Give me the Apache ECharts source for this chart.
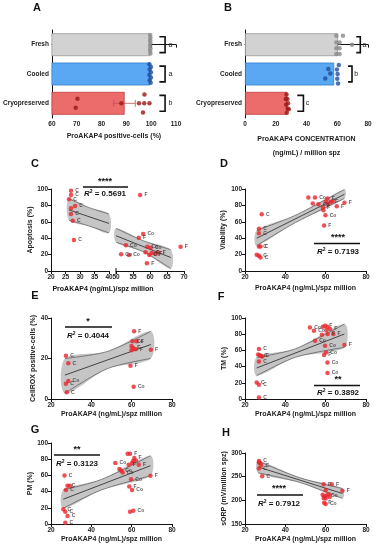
<!DOCTYPE html>
<html><head><meta charset="utf-8">
<script src="https://cdn.jsdelivr.net/npm/echarts@6/dist/echarts.min.js"></script>
<style>html,body{margin:0;padding:0;background:#fff}#c{width:376px;height:550px}</style>
</head><body><div id="c"></div>
<script>
// ---------- DATA ----------
const groups = ['Fresh', 'Cooled', 'Cryopreserved'];
// Panel A : ProAKAP4 positive cells (%)  (dots: [value, vertical jitter within the row])
const posCellsMean = [99.6, 99.6, 89.3];
const posCellsErr = [[99.4, 99.8], [99.3, 99.9], [84.9, 93.6]];
const posFreshDots = [[99.6,-0.33],[99.7,-0.24],[99.6,-0.15],[99.7,-0.06],[99.6,0.03],[99.7,0.12],[99.6,0.21],[99.7,0.3]];
const posCooledDots = [[99.3,-0.33],[99.9,-0.24],[99.4,-0.15],[99.9,-0.06],[99.3,0.03],[99.9,0.12],[99.4,0.21],[99.8,0.3]];
const posCryoDots = [[70.3,-0.16],[69.6,0.15],[88,0],[97.3,-0.3],[95.1,0],[97.2,0],[99.3,0],[96.7,0.31]];
const posLetters = ['a', 'a', 'b'];
const aTicks = [60, 70, 80, 90, 100, 110];
// Panel B : ProAKAP4 concentration
const concMean = [60.5, 58, 27.5];
const concFreshDots = [[59.4,-0.3],[63.7,-0.3],[59.4,-0.07],[61.5,-0.07],[59.4,0.12],[61.5,0.12],[69.6,0],[59.4,0.32],[61.5,0.32]];
const concCooledDots = [[61,-0.31],[59.8,-0.15],[54.2,-0.17],[55.5,-0.02],[52.2,0.15],[60.2,0.0],[60,0.16],[60.5,0.32]];
const concCryoDots = [[27,-0.3],[26.5,-0.15],[27.6,-0.15],[28,0],[26.8,0.05],[27.8,0.18],[28.5,0.2],[27.2,0.32]];
const concLetters = ['a', 'b', 'c'];
const bTicks = [0, 20, 40, 60, 80];
// Panel C : Apoptosis
const apoLeft = [[26.9,97.9,'C'],[26.9,92.7,'C'],[26.2,87.4,'C'],[28.3,79.3,'C'],[26.9,76.4,''],[26.9,69.5,'C'],[27.5,61.4,'C'],[27.9,37.8,'C']];
const apoRight = [[57.1,92.7,'F'],[58,45,'Co'],[56.7,40.6,'F'],[52.9,31.3,'Co'],[69,29.7,'F'],[59.2,29.5,'Co'],[60.2,28.5,'Co'],[58.7,23,''],[60.5,22,'F'],[61.5,21,'F'],[62.5,22.5,'F'],[59.8,19.5,'Co'],[51.5,20.3,'Co'],[53.8,19.5,'Co'],[59.1,9.4,'F']];
const apoBandXL = [26.2, 33, 40], apoFitL = [74.5, 66, 58], apoUpL = [88, 77.5, 69.5], apoLoL = [62, 55, 46.5];
const apoBandXR = [50, 58, 66.1], apoFitR = [43, 30, 16.5], apoUpR = [52, 37, 26], apoLoR = [35, 23.5, 3];
const cTicksL = [20, 25, 30, 35, 40], cTicksR = [50, 55, 60, 65, 70], pctTicks = [0, 20, 40, 60, 80, 100];
// Panel D : Viability
const viaPts = [[28.3,69.1,'C'],[26.9,51.4,'C'],[26.9,46.1,'C'],[26.9,30,'C'],[27.7,30,'C'],[25.8,19.8,''],[26.9,18.5,'C'],[27.7,16.5,'C'],
  [51.4,89.7,''],[54.7,89.7,'Co'],[53.6,82.3,''],[56.4,81.5,'Co'],[58.6,77.4,'F'],[58.9,74.1,''],[60.9,88.5,'F'],[60.2,84.4,''],[61.3,81.5,''],[62.5,84,'F'],[63.5,85,''],[65.5,79,'F'],[59.9,67.9,'Co'],[59.2,55.6,'F'],[69.3,83.1,'F']];
const viaBandX = [25.8, 45, 69.3], viaFit = [40, 63.5, 93.5], viaUp = [49.5, 68, 99.5], viaLo = [31, 59, 88.5];
const xTicks = [20, 40, 60, 80];
// Panel E : CellROX
const roxPts = [[27.4,21.3,'C'],[28.6,17.6,'C'],[28.6,8.9,'Co'],[27.4,7.5,'C'],[27.8,3.3,'C'],
  [61.2,33.4,'F'],[60.4,28.5,'Co'],[62.4,28.5,'F'],[59.9,26.2,''],[60.7,25.2,'F'],[62,24.6,'F'],[59.9,24.1,''],[69.5,24.3,'F'],[59.4,16.4,'F'],[61,6,'Co']];
const roxBandX = [26.9, 48, 69.5], roxFit = [11.8, 19.3, 26.9], roxUp = [20, 23.5, 33.4], roxLo = [2.8, 15, 20];
const eTicks = [0, 20, 40];
// Panel F : TM
const tmPts = [[26.9,61.7,'C'],[26.5,55,''],[27.3,54,'C'],[28,53,'C'],[28.6,52.5,''],[26.9,46.4,'C'],[25.8,20.5,'C'],[26.9,17.6,'C'],[26.9,2,'C'],
  [52.2,88.4,'Co'],[54.2,84.3,'Co'],[58.6,89.3,''],[59.7,90.5,'F'],[60.9,89.3,''],[62.2,86.4,'F'],[60.4,85.2,''],[61,80.2,'F'],[58.1,79.4,''],[63.8,80.2,'F'],[54.7,72,'Co'],[59.7,65.8,'Co'],[69.3,66.7,'F'],[60.2,57.5,'Co'],[59.2,54.3,'F'],[60.9,45.2,'Co'],[60.9,32.1,'Co']];
const tmBandX = [25.8, 45, 69.3], tmFit = [38.3, 57, 80.2], tmUp = [51.4, 62, 92.6], tmLo = [28.8, 51.5, 63.7];
// Panel G : PM
const pmPts = [[26.7,59.9,'C'],[28.2,47.1,'C'],[29.4,47.1,''],[27.4,42.1,'C'],[26.1,18.2,'C'],[27.1,15.2,'C'],[28.2,9.9,'C'],[27.1,1.6,'C'],
  [51.9,75.2,'Co'],[53.9,67.8,''],[54.7,66,'Co'],[55.5,63.6,'Co'],[58,86.7,''],[59.2,86.7,'F'],[60.8,78,''],[58.5,73.1,'F'],[60.2,75.2,''],[61.3,81.4,'F'],[62.1,78.4,''],[63.5,73.1,'F'],[69.3,59.5,'F'],[59.7,55.4,'Co'],[58.8,46.2,'F'],[60.2,42.1,'Co'],[59.2,15.2,''],[60.8,16.5,'Co']];
const pmBandX = [26.1, 45, 69.3], pmFit = [30.6, 48.5, 71.9], pmUp = [42.1, 55, 84.3], pmLo = [19.4, 42, 59.5];
// Panel H : sORP
const orpPts = [[26.9,283,'C'],[27.5,279,''],[28,274,'C'],[26.9,267,'C'],[26.9,280,''],[28.5,251,'C'],
  [59,234,'F'],[63,234,'F'],[68.3,220,'F'],[60,221.5,''],[58.5,212,''],[59.5,208,''],[60.5,210,'Co'],[61.5,213,''],[62,207,''],[59,205,''],[60,204,''],[59.2,195,'F'],[60,192,'Co']];
const orpBandX = [26.5, 47, 68.3], orpFit = [270.5, 243, 214.5], orpUp = [283, 248, 225], orpLo = [258, 238, 204];
const hTicks = [150, 200, 250, 300];

// ---------- STYLE HELPERS ----------
const FONT = 'Liberation Sans, Arial, sans-serif';
const tickFont = {fontSize: 6.5, fontWeight: 'bold', color: '#222', fontFamily: FONT};
const nameFont = {fontSize: 7, fontWeight: 'bold', color: '#222', fontFamily: FONT};
function valAxis(gi, ticks, extra) {
  return Object.assign({
    type: 'value', gridIndex: gi, min: ticks[0], max: ticks[ticks.length - 1], interval: ticks[1] - ticks[0],
    axisLine: {show: true, lineStyle: {color: '#111', width: 1}},
    axisTick: {show: true, length: 3, lineStyle: {color: '#111', width: 1}},
    axisLabel: Object.assign({margin: 3}, tickFont),
    splitLine: {show: false}, nameTextStyle: nameFont
  }, extra || {});
}
function hiddenAxis(gi) {
  return {type: 'value', gridIndex: gi, min: -0.5, max: 2.5, inverse: true, show: false, splitLine: {show: false}};
}
function catAxis(gi) {
  return {type: 'category', gridIndex: gi, data: groups, inverse: true,
    axisLine: {lineStyle: {color: '#111', width: 1}}, axisTick: {length: 3, alignWithLabel: true, lineStyle: {color: '#111'}},
    axisLabel: Object.assign({margin: 3}, tickFont)};
}
const RED = '#e8242b';
function scatter(xi, yi, pts) {
  return {type: 'scatter', xAxisIndex: xi, yAxisIndex: yi, data: pts, symbolSize: 4.5, z: 5,
    itemStyle: {color: RED},
    label: {show: true, position: 'right', distance: 2, fontSize: 5, fontWeight: 'bold', color: '#333', fontFamily: FONT,
      formatter: p => p.value[2]}};
}
function band(xi, yi, bx, up, lo) {
  return {type: 'custom', xAxisIndex: xi, yAxisIndex: yi, z: 2, silent: true,
    data: bx.map((x, i) => [x, up[i], lo[i]]),
    renderItem: (params, api) => {
      if (params.dataIndex !== 0) return null;
      const top = bx.map((x, i) => api.coord([x, up[i]]));
      const bot = bx.map((x, i) => api.coord([x, lo[i]])).reverse();
      return {type: 'group', children: [
        {type: 'polygon', shape: {points: top.concat(bot), smooth: 0.3}, style: {fill: 'rgba(150,150,150,0.55)', stroke: null}},
        {type: 'polyline', shape: {points: top, smooth: 0.3}, style: {stroke: '#555', lineWidth: 0.7, fill: null}},
        {type: 'polyline', shape: {points: bot, smooth: 0.3}, style: {stroke: '#555', lineWidth: 0.7, fill: null}}
      ]};
    }};
}
function fitLine(xi, yi, bx, fit) {
  return {type: 'line', xAxisIndex: xi, yAxisIndex: yi, data: [[bx[0], fit[0]], [bx[bx.length - 1], fit[fit.length - 1]]],
    symbol: 'none', z: 3, silent: true, lineStyle: {color: '#444', width: 1}};
}
// dots placed on a hidden value axis whose units equal category rows (row index + jitter)
function dots(xi, yi, arr, row, color) {
  return {type: 'scatter', xAxisIndex: xi, yAxisIndex: yi, data: arr.map(d => [d[0], row + d[1]]), symbolSize: 4.5, z: 5, itemStyle: {color: color}};
}
function brackets(xi, yi, spec) {
  return {type: 'custom', xAxisIndex: xi, yAxisIndex: yi, z: 6, silent: true, data: spec,
    renderItem: (params, api) => {
      const x1 = api.value(0), x2 = api.value(1), c = api.value(2), lx = api.value(3);
      const p1 = api.coord([x1, c - 0.27]), p2 = api.coord([x2, c - 0.27]), p3 = api.coord([x2, c + 0.27]), p4 = api.coord([x1, c + 0.27]);
      const t = api.coord([lx, c]);
      return {type: 'group', children: [
        {type: 'polyline', shape: {points: [p1, p2, p3, p4]}, style: {stroke: '#111', lineWidth: 1.6, fill: null}},
        {type: 'text', x: t[0], y: t[1], style: {text: spec[params.dataIndex][4], fontSize: 7, fill: '#222', fontFamily: FONT, align: 'left', verticalAlign: 'middle'}}
      ]};
    }};
}
function errBar(xi, yi, lo, hi, c, color) {
  return {type: 'custom', xAxisIndex: xi, yAxisIndex: yi, z: 4, silent: true, data: [[lo, hi, c]],
    renderItem: (params, api) => {
      const a = api.coord([api.value(0), api.value(2)]), b = api.coord([api.value(1), api.value(2)]);
      const h = 3.5;
      return {type: 'group', children: [
        {type: 'line', shape: {x1: a[0], y1: a[1], x2: b[0], y2: b[1]}, style: {stroke: color, lineWidth: 0.8}},
        {type: 'line', shape: {x1: a[0], y1: a[1] - h, x2: a[0], y2: a[1] + h}, style: {stroke: color, lineWidth: 0.8}},
        {type: 'line', shape: {x1: b[0], y1: b[1] - h, x2: b[0], y2: b[1] + h}, style: {stroke: color, lineWidth: 0.8}}
      ]};
    }};
}
const barFill = ['#d2d2d2', '#5aa8f3', '#ec6b6b'];
const barEdge = ['#9a9a9a', '#2f7fd0', '#c03a3a'];
const dotCol = ['#8a8a8a', '#1c4e9c', '#9a1818'];
function bars(xi, yi, vals) {
  return {type: 'bar', xAxisIndex: xi, yAxisIndex: yi, barCategoryGap: '22%', z: 2,
    data: vals.map((v, i) => ({value: v, itemStyle: {color: barFill[i], borderColor: barEdge[i], borderWidth: 0.8}}))};
}

// ---------- ANNOTATIONS (graphic) ----------
const G = [];
function txt(x, y, s, size, extra) {
  G.push({type: 'text', x: x, y: y, z: 50, style: Object.assign({text: s, fontSize: size, fontWeight: 'bold', fill: '#111', fontFamily: FONT, align: 'center', verticalAlign: 'middle'}, extra || {})});
}
function hline(x1, x2, y) {
  G.push({type: 'line', z: 50, shape: {x1: x1, y1: y, x2: x2, y2: y}, style: {stroke: '#111', lineWidth: 1.4}});
}
function sig(stars, cx, sy, ly, x1, x2, ry, r2) {
  txt(cx, sy, stars, 9);
  hline(x1, x2, ly);
  G.push({type: 'text', x: cx, y: ry, z: 50, style: {text: '{i|R}{s|2} = ' + r2, fontSize: 8, fontWeight: 'bold', fill: '#111', fontFamily: FONT, align: 'center', verticalAlign: 'middle',
    rich: {i: {fontStyle: 'italic', fontWeight: 'bold', fontSize: 8, fontFamily: FONT}, s: {fontSize: 5, fontWeight: 'bold', verticalAlign: 'top', padding: [0, 0, 4, 0], fontFamily: FONT}}}});
}
[['A',37,8],['B',228,8],['C',35,164],['D',224,164],['E',35,296],['F',221,297],['G',35,430],['H',226,433]].forEach(p => txt(p[1], p[2], p[0], 11));
sig('****', 105, 182, 187, 83, 128, 194, '0.5691');
sig('****', 338, 238, 243.5, 314, 360, 252, '0.7193');
sig('*', 88, 322, 327, 65, 112, 336, '0.4044');
sig('**', 338, 380, 385.5, 314, 360, 392.5, '0.3892');
sig('**', 77, 450, 455, 54, 100, 463.5, '0.3123');
sig('****', 279, 489, 495, 257, 303, 504, '0.7912');
txt(103, 289, 'ProAKAP4 (ng/mL)/spz million', 7);
// broken-axis marker on panel C
G.push({type: 'line', z: 50, shape: {x1: 116, y1: 268, x2: 116, y2: 274}, style: {stroke: '#111', lineWidth: 1}});

// ---------- OPTION ----------
const grids = [
  {left: 51, top: 30, width: 125, height: 88},   // A
  {left: 245, top: 30, width: 123, height: 88},  // B
  {left: 51, top: 189, width: 58, height: 82},   // C left
  {left: 116, top: 189, width: 68, height: 82},  // C right
  {left: 245, top: 189, width: 121, height: 82}, // D
  {left: 51, top: 318, width: 121, height: 81},  // E
  {left: 245, top: 318, width: 121, height: 81}, // F
  {left: 51, top: 443, width: 121, height: 81},  // G
  {left: 245, top: 453, width: 121, height: 71}  // H
];
const xName = 'ProAKAP4 (ng/mL)/spz million';
const xAxes = [
  valAxis(0, aTicks, {name: 'ProAKAP4 positive-cells (%)', nameLocation: 'middle', nameGap: 15}),
  valAxis(1, bTicks, {name: 'ProAKAP4 CONCENTRATION\n(ng/mL) / million spz', nameLocation: 'middle', nameGap: 14, nameTextStyle: Object.assign({lineHeight: 14, align: 'center'}, nameFont)}),
  valAxis(2, cTicksL),
  valAxis(3, cTicksR),
  valAxis(4, xTicks, {name: xName, nameLocation: 'middle', nameGap: 14}),
  valAxis(5, xTicks, {name: xName, nameLocation: 'middle', nameGap: 12}),
  valAxis(6, xTicks, {name: xName, nameLocation: 'middle', nameGap: 12}),
  valAxis(7, xTicks, {name: xName, nameLocation: 'middle', nameGap: 12}),
  valAxis(8, xTicks, {name: xName, nameLocation: 'middle', nameGap: 12})
];
const yAxes = [
  catAxis(0), catAxis(1),
  valAxis(2, pctTicks, {name: 'Apoptosis (%)', nameLocation: 'middle', nameGap: 14}),
  valAxis(3, pctTicks, {show: false}),
  valAxis(4, pctTicks, {name: 'Viability (%)', nameLocation: 'middle', nameGap: 18}),
  valAxis(5, eTicks, {name: 'CellROX positive-cells (%)', nameLocation: 'middle', nameGap: 12}),
  valAxis(6, pctTicks, {name: 'TM (%)', nameLocation: 'middle', nameGap: 16}),
  valAxis(7, pctTicks, {name: 'PM (%)', nameLocation: 'middle', nameGap: 14}),
  valAxis(8, hTicks, {name: 'sORP (mV/million spz)', nameLocation: 'middle', nameGap: 14}),
  hiddenAxis(0), hiddenAxis(1)
];
const series = [
  bars(0, 0, posCellsMean),
  errBar(0, 9, posCellsErr[2][0], posCellsErr[2][1], 2, '#c05050'),
  dots(0, 9, posFreshDots, 0, dotCol[0]), dots(0, 9, posCooledDots, 1, dotCol[1]), dots(0, 9, posCryoDots, 2, dotCol[2]),
  brackets(0, 9, [[103.3, 105.6, 0, 107, posLetters[0]], [103.3, 105.6, 1, 107, posLetters[1]], [103.3, 105.6, 2, 107, posLetters[2]]]),
  bars(1, 1, concMean),
  dots(1, 10, concFreshDots, 0, dotCol[0]), dots(1, 10, concCooledDots, 1, dotCol[1]), dots(1, 10, concCryoDots, 2, dotCol[2]),
  brackets(1, 10, [[72.4, 75, 0, 76.5, concLetters[0]], [67, 69.6, 1, 71, concLetters[1]], [34, 38, 2, 39.5, concLetters[2]]]),
  band(2, 2, apoBandXL, apoUpL, apoLoL), fitLine(2, 2, apoBandXL, apoFitL), scatter(2, 2, apoLeft),
  band(3, 3, apoBandXR, apoUpR, apoLoR), fitLine(3, 3, apoBandXR, apoFitR), scatter(3, 3, apoRight),
  band(4, 4, viaBandX, viaUp, viaLo), fitLine(4, 4, viaBandX, viaFit), scatter(4, 4, viaPts),
  band(5, 5, roxBandX, roxUp, roxLo), fitLine(5, 5, roxBandX, roxFit), scatter(5, 5, roxPts),
  band(6, 6, tmBandX, tmUp, tmLo), fitLine(6, 6, tmBandX, tmFit), scatter(6, 6, tmPts),
  band(7, 7, pmBandX, pmUp, pmLo), fitLine(7, 7, pmBandX, pmFit), scatter(7, 7, pmPts),
  band(8, 8, orpBandX, orpUp, orpLo), fitLine(8, 8, orpBandX, orpFit), scatter(8, 8, orpPts)
];
const chart = echarts.init(document.getElementById('c'), null, {renderer: 'canvas'});
chart.setOption({animation: false, backgroundColor: '#fff', textStyle: {fontFamily: FONT},
  grid: grids, xAxis: xAxes, yAxis: yAxes, series: series, graphic: G});
</script>
</body></html>
